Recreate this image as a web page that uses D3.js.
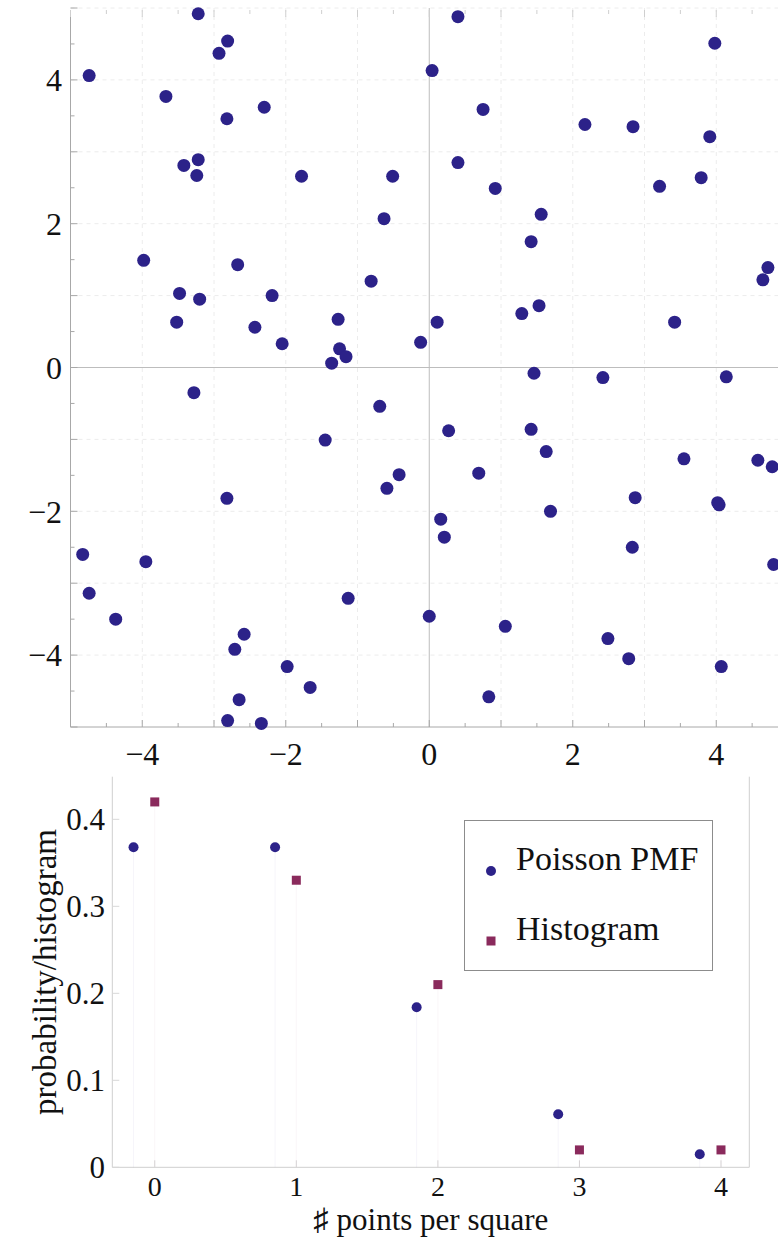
<!DOCTYPE html>
<html>
<head>
<meta charset="utf-8">
<script src="https://cdn.jsdelivr.net/npm/d3@7"></script>
<style>
  html, body { margin: 0; padding: 0; background: #fff; }
  svg { display: block; }
  text { font-family: "Liberation Serif", "DejaVu Serif", serif; fill: #111; }
</style>
</head>
<body>
<svg id="chart" width="778" height="1247"></svg>
<script>
// ---------- Data: top scatter (random points in the square) ----------
const pointX = [
  -3.22, -2.81, -2.93, -4.74, -3.67, -2.30, -2.82, -3.22, -3.42, -3.24,
  -1.78, -0.51, -0.63, -3.98, -2.67, -0.81, -3.48, -2.19, -3.20, -3.52,
  -2.43, -1.27, -2.05, -1.25, -1.16, -1.36,
   0.40,  3.98,  0.04,  0.75,  2.17,  2.84,  3.91,  0.40,  0.92,  3.21,
   3.79,  1.56,  1.42,  4.72,  4.65,  1.53,  1.29,  0.11,  3.42, -0.12,
   1.46,  2.42,  4.14,
   0.27,  1.42,  1.63,  0.69,  3.55,  4.58,  4.78,  2.87,  4.04,  4.02,
   0.16,  0.21,  1.69,  2.83,  4.80,  0.00,  1.06,  2.49,  2.78,  4.07,
   0.83,
  -3.28, -0.69, -1.45, -0.59, -0.42, -2.82, -4.83, -3.95, -4.74, -4.37,
  -1.13, -2.58, -2.71, -1.98, -1.66, -2.65, -2.81, -2.34
];
const pointY = [
   4.92,  4.54,  4.37,  4.06,  3.77,  3.62,  3.46,  2.89,  2.81,  2.67,
   2.66,  2.66,  2.07,  1.49,  1.43,  1.20,  1.03,  1.00,  0.95,  0.63,
   0.56,  0.67,  0.33,  0.26,  0.15,  0.06,
   4.88,  4.51,  4.13,  3.59,  3.38,  3.35,  3.21,  2.85,  2.49,  2.52,
   2.64,  2.13,  1.75,  1.39,  1.22,  0.86,  0.75,  0.63,  0.63,  0.35,
  -0.08, -0.14, -0.13,
  -0.88, -0.86, -1.17, -1.47, -1.27, -1.29, -1.38, -1.81, -1.91, -1.88,
  -2.11, -2.36, -2.00, -2.50, -2.74, -3.46, -3.60, -3.77, -4.05, -4.16,
  -4.58,
  -0.35, -0.54, -1.01, -1.68, -1.49, -1.82, -2.60, -2.70, -3.14, -3.50,
  -3.21, -3.71, -3.92, -4.16, -4.45, -4.62, -4.91, -4.95
];
const topTickValues = [-4, -2, 0, 2, 4];

// ---------- Data: bottom chart ----------
const counts    = [0, 1, 2, 3, 4];
const poissonPMF = [0.368, 0.368, 0.184, 0.061, 0.015];
const histogram  = [0.42, 0.33, 0.21, 0.02, 0.02];
const bottomXTicks = [0, 1, 2, 3, 4];
const bottomYTicks = [0, 0.1, 0.2, 0.3, 0.4];
const seriesNames = ["Poisson PMF", "Histogram"];
const xTitle = "\u266F points per square";
const yTitle = "probability/histogram";

// ---------- Styles ----------
const navy = "#2c2289";
const maroon = "#8a2a5c";
const frameColor = "#a8a8a8";
const gridColor = "#ececec";

const svg = d3.select("#chart");
const fmtMinus = v => (v < 0 ? "\u2212" + Math.abs(v) : String(v));

// ================= TOP SCATTER =================
const tx = d3.scaleLinear().domain([-5, 5]).range([70.5, 788]);
const ty = d3.scaleLinear().domain([-5, 5]).range([727, 8]);
const topG = svg.append("g");

// integer grid lines (dashed, faint)
const gridVals = d3.range(-5, 6, 1);
topG.append("g").selectAll("line").data(gridVals.filter(v => v !== 0 && v !== -5)).join("line")
  .attr("x1", d => tx(d)).attr("x2", d => tx(d))
  .attr("y1", ty(5)).attr("y2", ty(-5))
  .attr("stroke", gridColor).attr("stroke-dasharray", "4,4").attr("stroke-width", 1);
topG.append("g").selectAll("line").data(gridVals.filter(v => v !== 0 && v !== -5)).join("line")
  .attr("y1", d => ty(d)).attr("y2", d => ty(d))
  .attr("x1", tx(-5)).attr("x2", tx(5))
  .attr("stroke", gridColor).attr("stroke-dasharray", "4,4").attr("stroke-width", 1);

// zero axes
topG.append("line").attr("x1", tx(0)).attr("x2", tx(0)).attr("y1", ty(5)).attr("y2", ty(-5))
  .attr("stroke", "#bdbdbd").attr("stroke-width", 1);
topG.append("line").attr("y1", ty(0)).attr("y2", ty(0)).attr("x1", tx(-5)).attr("x2", tx(5))
  .attr("stroke", "#bdbdbd").attr("stroke-width", 1);

// frame: left & bottom lines
topG.append("line").attr("x1", tx(-5)).attr("x2", tx(-5)).attr("y1", ty(5) + 2).attr("y2", ty(-5))
  .attr("stroke", frameColor);
topG.append("line").attr("x1", tx(-5)).attr("x2", tx(5)).attr("y1", ty(-5)).attr("y2", ty(-5))
  .attr("stroke", frameColor);

// ticks every 0.5 (inward), on left, bottom and top
const minorVals = d3.range(-5, 5.01, 0.5);
const tickLen = v => (Number.isInteger(v) ? 7 : 4);
topG.append("g").selectAll("line").data(minorVals).join("line")
  .attr("x1", tx(-5)).attr("x2", d => tx(-5) + tickLen(d))
  .attr("y1", d => ty(d)).attr("y2", d => ty(d)).attr("stroke", frameColor);
topG.append("g").selectAll("line").data(minorVals).join("line")
  .attr("y1", ty(-5)).attr("y2", d => ty(-5) - tickLen(d))
  .attr("x1", d => tx(d)).attr("x2", d => tx(d)).attr("stroke", frameColor);
topG.append("g").selectAll("line").data(minorVals).join("line")
  .attr("y1", ty(5) + 2).attr("y2", d => ty(5) + 2 + tickLen(d))
  .attr("x1", d => tx(d)).attr("x2", d => tx(d)).attr("stroke", "#cfcfcf");

// tick labels
topG.append("g").selectAll("text").data(topTickValues).join("text")
  .attr("x", 62).attr("y", d => ty(d)).attr("dy", "0.35em")
  .attr("text-anchor", "end").attr("font-size", 32).text(fmtMinus);
topG.append("g").selectAll("text").data(topTickValues).join("text")
  .attr("x", d => tx(d)).attr("y", 765)
  .attr("text-anchor", "middle").attr("font-size", 32).text(fmtMinus);

// points
topG.append("g").selectAll("circle").data(pointX.map((x, i) => [x, pointY[i]])).join("circle")
  .attr("cx", d => tx(d[0])).attr("cy", d => ty(d[1])).attr("r", 6.5)
  .attr("fill", navy);

// ================= BOTTOM CHART =================
const bx = d3.scaleLinear().domain([-0.3, 4.2]).range([112.3, 749.3]);
const by = d3.scaleLinear().domain([0, 0.449]).range([1167.3, 776.7]);
const offset = -0.15;
const bot = svg.append("g");

// frame: left, bottom, right
bot.append("line").attr("x1", bx(-0.3)).attr("x2", bx(-0.3)).attr("y1", by(0.449)).attr("y2", by(0))
  .attr("stroke", "#cfcfcf");
bot.append("line").attr("x1", bx(4.2)).attr("x2", bx(4.2)).attr("y1", by(0.449)).attr("y2", by(0))
  .attr("stroke", "#cfcfcf");
bot.append("line").attr("x1", bx(-0.3)).attr("x2", bx(4.2)).attr("y1", by(0)).attr("y2", by(0))
  .attr("stroke", "#cfcfcf");

// ticks
bot.append("g").selectAll("line").data(bottomYTicks).join("line")
  .attr("x1", bx(-0.3)).attr("x2", bx(-0.3) + 7)
  .attr("y1", d => by(d)).attr("y2", d => by(d)).attr("stroke", "#d8d8d8");
bot.append("g").selectAll("line").data(bottomXTicks).join("line")
  .attr("y1", by(0)).attr("y2", by(0) - 7)
  .attr("x1", d => bx(d)).attr("x2", d => bx(d)).attr("stroke", "#d8d8d8");

// stems (faint fills to axis)
bot.append("g").selectAll("line").data(counts).join("line")
  .attr("x1", (d) => bx(d + offset)).attr("x2", (d) => bx(d + offset))
  .attr("y1", (d, i) => by(poissonPMF[i])).attr("y2", by(0))
  .attr("stroke", navy).attr("stroke-opacity", 0.045);
bot.append("g").selectAll("line").data(counts).join("line")
  .attr("x1", d => bx(d)).attr("x2", d => bx(d))
  .attr("y1", (d, i) => by(histogram[i])).attr("y2", by(0))
  .attr("stroke", maroon).attr("stroke-opacity", 0.045);

// tick labels
bot.append("g").selectAll("text").data(bottomYTicks).join("text")
  .attr("x", 105).attr("y", d => by(d)).attr("dy", "0.35em")
  .attr("text-anchor", "end").attr("font-size", 31)
  .text(d => (d === 0 ? "0" : d3.format(".1f")(d)));
bot.append("g").selectAll("text").data(bottomXTicks).join("text")
  .attr("x", d => bx(d)).attr("y", 1196)
  .attr("text-anchor", "middle").attr("font-size", 28).text(d => d);

// axis titles
bot.append("text").attr("x", (bx(-0.3) + bx(4.2)) / 2).attr("y", 1230)
  .attr("text-anchor", "middle").attr("font-size", 31).text(xTitle);
bot.append("text").attr("transform", `translate(56, ${(by(0) + by(0.449)) / 2}) rotate(-90)`)
  .attr("text-anchor", "middle").attr("font-size", 33).text(yTitle);

// markers
bot.append("g").selectAll("circle").data(counts).join("circle")
  .attr("cx", d => bx(d + offset)).attr("cy", (d, i) => by(poissonPMF[i])).attr("r", 5)
  .attr("fill", navy);
const sq = 9;
bot.append("g").selectAll("rect").data(counts).join("rect")
  .attr("x", d => bx(d) - sq / 2).attr("y", (d, i) => by(histogram[i]) - sq / 2)
  .attr("width", sq).attr("height", sq).attr("fill", maroon);

// legend
const lg = bot.append("g");
lg.append("rect").attr("x", 464.5).attr("y", 820.5).attr("width", 248).attr("height", 150)
  .attr("fill", "#fff").attr("stroke", "#8c8c8c").attr("stroke-width", 1);
lg.append("circle").attr("cx", 491).attr("cy", 871).attr("r", 5).attr("fill", navy);
lg.append("rect").attr("x", 491 - sq / 2).attr("y", 941 - sq / 2).attr("width", sq).attr("height", sq)
  .attr("fill", maroon);
lg.append("text").attr("x", 516).attr("y", 870).attr("font-size", 34).text(seriesNames[0]);
lg.append("text").attr("x", 516).attr("y", 940).attr("font-size", 34).text(seriesNames[1]);
</script>
</body>
</html>
